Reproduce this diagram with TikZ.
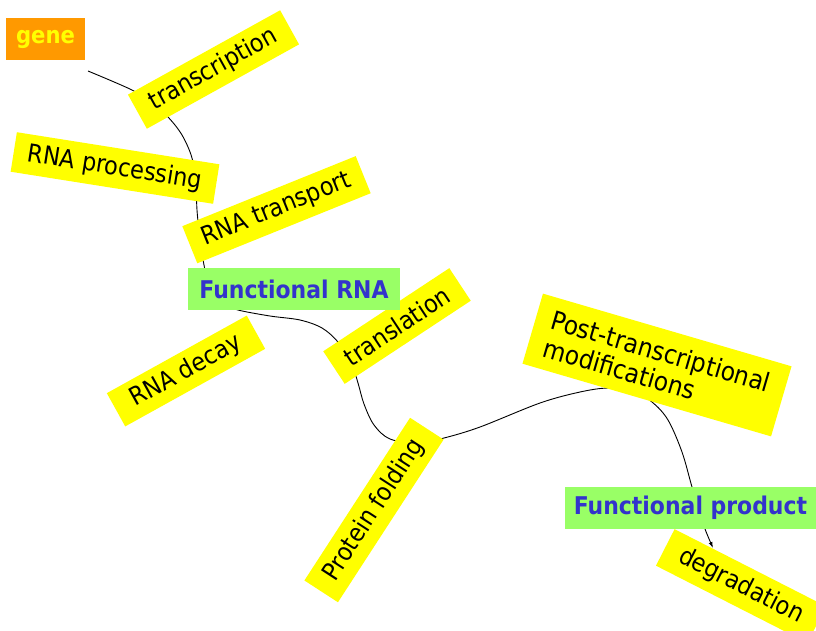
\documentclass[tikz,border=0pt]{standalone}
\usepackage{fontspec}
\setmainfont{DejaVu Sans Condensed}
\usetikzlibrary{arrows.meta}
\definecolor{boxyellow}{HTML}{FFFF00}
\definecolor{boxgreen}{HTML}{99FF66}
\definecolor{boxorange}{HTML}{FF9900}
\definecolor{txtblue}{HTML}{3333CC}
\begin{document}
\begin{tikzpicture}[x=1pt,y=-1pt,
  stepbox/.style={fill=boxyellow,inner sep=0pt,font=\fontsize{25}{28}\selectfont,text=black},
  statebox/.style={fill=boxgreen,inner sep=0pt,font=\fontsize{24.4}{28}\selectfont\bfseries,text=txtblue},
  genebox/.style={fill=boxorange,inner sep=0pt,font=\fontsize{23.5}{26}\selectfont\bfseries,text=boxyellow},
  flow/.style={line width=0.9pt,-{Latex[length=6pt,width=4pt]}}]
\useasboundingbox (0,0) rectangle (816,630);
% waypoints of the connector
\coordinate (s) at (88,71);
\coordinate (end) at (713,548);
\draw[flow] plot[smooth,tension=0.55] coordinates {
 (s) (132,90) (152,103) (168,117) (182,135) (192,158) (196,185) (197,210)
 (200,240) (204,265) (210,290) (224,304) (238,310) (270,316) (300,320)
 (322,328) (338,342) (351,362) (358,383) (364,404) (374,425) (390,439) (418,443)
 (444,438) (480,427) (540,403) (580,392) (608,388) (632,391) (652,402)
 (668,420) (682,452) (692,487) (700,512) (705,529) (end)};
% nodes
\node[genebox,minimum width=79pt,minimum height=42pt] (gene) at (45.5,39) {gene};
\node[stepbox,rotate=29,minimum width=174pt,minimum height=39pt] (transcription) at (213.5,69.5) {transcription};
\node[stepbox,rotate=-9,minimum width=205pt,minimum height=40pt] (processing) at (115,168) {RNA processing};
\node[stepbox,rotate=22,minimum width=187pt,minimum height=40pt] (transport) at (276.5,209.7) {RNA transport};
\node[stepbox,rotate=29,minimum width=160pt,minimum height=38pt] (decay) at (186,371) {RNA decay};
\node[stepbox,rotate=33.4,minimum width=151pt,minimum height=39pt] (translation) at (397,326) {translation};
\node[statebox,minimum width=212pt,minimum height=42pt] (frna) at (294,289) {Functional RNA};
\node[stepbox,rotate=57,minimum width=194pt,minimum height=40pt] (folding) at (374,510) {Protein folding};
\node[stepbox,rotate=-16.3,minimum width=259pt,minimum height=73pt,align=left,font=\fontsize{26}{28.5}\selectfont] (post) at (657,365) {Post-transcriptional\\modifications};
\node[statebox,minimum width=251pt,minimum height=42pt] (fprod) at (690.5,508) {Functional product};
\node[stepbox,rotate=-27,minimum width=170pt,minimum height=41pt] (degradation) at (741,586) {degradation};
\end{tikzpicture}
\end{document}
